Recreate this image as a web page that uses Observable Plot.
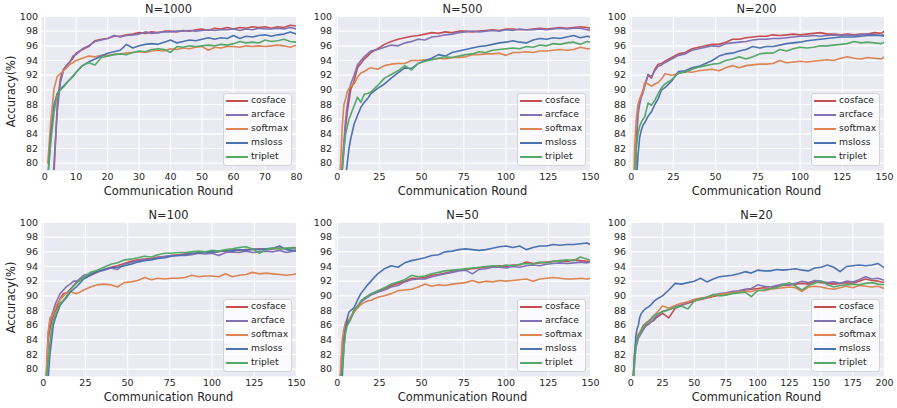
<!DOCTYPE html>
<html>
<head>
<meta charset="utf-8">
<script src="https://cdn.jsdelivr.net/npm/d3@7"></script>
<script src="https://cdn.jsdelivr.net/npm/@observablehq/plot@0.6"></script>
<style>
  html, body { margin: 0; padding: 0; background: #ffffff; }
  #root { position: relative; width: 897px; height: 408px; background: #ffffff; font-family: "DejaVu Sans", sans-serif; color: #262626; overflow: hidden; }
  #root svg { position: absolute; overflow: visible; }
  .lbl { position: absolute; white-space: nowrap; font-size: 11.4px; line-height: 13px; color: #262626; }
  .legend { position: absolute; box-sizing: border-box; background: rgba(255,255,255,0.8); border: 1px solid #d4d4d8; border-radius: 3px; }
  .legend .sw { position: absolute; height: 1.7px; }
  .legend .tx { position: absolute; font-size: 9.2px; line-height: 12px; white-space: nowrap; color: #262626; }
</style>
</head>
<body>
<div id="root"></div>
<script>
// ---------- data ----------
const methods = ["cosface", "arcface", "softmax", "msloss", "triplet"];
const colors = ["#C44E52", "#8172B3", "#DD8452", "#4C72B0", "#55A868"];
const titles = ["N=1000", "N=500", "N=200", "N=100", "N=50", "N=20"];
const yTicks = [80, 82, 84, 86, 88, 90, 92, 94, 96, 98, 100];
const xTicks80 = [0, 10, 20, 30, 40, 50, 60, 70, 80];
const xTicks150 = [0, 25, 50, 75, 100, 125, 150];
const xTicks200 = [0, 25, 50, 75, 100, 125, 150, 175, 200];

// N=1000
const x_N1000 = [1,2,3,4,5,6,7,8,9,10,12,14,16,18,20,22,24,26,28,30,32,34,36,38,40,42,44,46,48,50,52,54,56,58,60,62,64,66,68,70,72,74,76,78,80];
const cosface_N1000 = [70,72,79,88,91.5,92.8,93.3,93.8,94.3,95.0, 95.5,95.9,96.7,96.9,97.0, 97.3,97.3,97.5,97.6,97.8, 97.7,97.9,97.8,98.0,98.0, 97.9,98.1,98.0,98.2,98.3, 98.1,98.4,98.3,98.5,98.3, 98.5,98.4,98.6,98.5,98.6, 98.4,98.6,98.5,98.8,98.7];
const arcface_N1000 = [70,74,80,87,91,92.7,93.4,93.8,94.6,94.8, 95.6,96.0,96.6,96.8,97.0, 97.4,97.2,97.4,97.5,97.6, 97.9,97.7,97.8,97.9,97.9, 98.0,98.0,98.1,98.0,98.1, 98.2,98.1,98.2,98.2,98.3, 98.1,98.3,98.2,98.4,98.3, 98.3,98.4,98.3,98.5,98.3];
const softmax_N1000 = [80,86,90.2,91.8,92.2,92.6,93.0,93.5,93.7,94.0, 94.3,94.6,94.5,94.7,94.7, 94.8,94.9,95.0,95.1,95.2, 95.1,95.3,95.4,95.3,95.6, 95.5,95.7,95.6,95.8,95.9, 95.4,95.8,95.7,95.9,95.9, 95.8,96.0,95.9,96.0,95.9, 96.0,96.1,96.0,95.8,96.1];
const msloss_N1000 = [78,84,88,89.5,90.1,90.5,91.0,91.4,91.9,92.4, 93.3,93.8,94.2,94.6,95.0, 95.2,95.4,96.2,95.7,96.0, 96.2,96.3,96.2,96.5,96.8, 96.4,96.6,96.8,96.7,96.9, 97.1,96.9,97.1,97.0,97.4, 97.0,97.3,97.2,97.4,97.5, 97.3,97.5,97.6,97.9,97.6];
const triplet_N1000 = [78,83,87,89.5,90.0,90.4,90.9,91.4,91.8,92.4, 93.3,93.7,93.4,94.4,94.6, 94.8,94.9,94.8,95.1,95.3, 95.2,95.5,95.6,95.5,95.1, 95.9,95.8,96.0,95.9,96.0, 96.1,96.0,96.2,96.1,96.3, 96.6,96.4,96.5,96.4,96.8, 96.6,96.7,96.9,96.6,96.5];

// shared round grid for N=500, N=200, N=100, N=50
const x_150 = [1,2,3,4,5,6,7,8, 10,12,14,16,18,20, 24,28,32,36,40, 44,48,52,56,60, 64,68,72,76,80, 84,88,92,96,100, 104,108,112,116,120, 124,128,132,136,140,144,148,150];

// N=500
const cosface_N500 = [70,74,79,82,85,87,88.5,90, 91.2,93.0,93.6,94.2,94.6,95.1, 95.6,96.2,96.6,96.9,97.1, 97.3,97.4,97.6,97.8,97.7, 97.9,97.8,98.0,98.0,97.9, 98.0,98.1,98.2,98.1,98.3, 98.3,98.2,98.2,98.3,98.4, 98.3,98.4,98.5,98.4,98.5,98.6,98.5,98.4];
const arcface_N500 = [70,75,80,83,86,88,89.5,90.8, 92.0,93.4,94.0,94.5,94.9,95.3, 95.5,95.8,96.1,96.0,96.4, 96.6,96.9,96.8,97.2,97.3, 97.5,97.6,97.8,97.9,98.0, 97.9,98.0,98.1,98.0,98.2, 98.1,98.3,98.2,98.2,98.3, 98.2,98.3,98.4,98.3,98.4,98.4,98.2,98.1];
const softmax_N500 = [76,80,85,88,88.8,89.8,90.2,90.5, 90.8,91.7,92.3,92.5,92.8,93.0, 92.8,93.3,93.5,93.6,93.6, 94.0,94.0,94.1,94.1,94.3, 94.2,94.4,94.4,94.5,94.8, 94.8,94.9,94.9,95.0,94.7, 95.1,95.1,95.2,95.1,95.3, 95.3,95.4,95.5,95.4,95.5,95.8,95.6,95.6];
const msloss_N500 = [70,70,72,75,78,80,82,83.3, 85.3,86.5,87.6,88.3,88.8,89.5, 90.2,90.8,91.6,92.3,93.0, 92.9,93.6,94.0,94.3,94.8, 94.6,95.1,95.3,95.5,95.7, 95.9,96.0,96.2,96.4,96.5, 96.7,96.5,96.4,96.8,97.0, 96.9,97.1,97.0,97.2,97.4,97.1,97.3,97.2];
const triplet_N500 = [70,74,79,82,84,85,86,86.6, 87.8,89.0,88.3,89.4,89.5,89.7, 90.6,91.6,92.1,92.6,93.3, 92.7,93.6,93.9,94.1,94.3, 94.5,94.4,94.6,94.8,94.9, 95.2,95.1,95.4,95.5,95.6, 95.7,95.6,95.9,95.8,96.1, 96.0,96.3,96.2,96.4,96.5,96.2,96.6,96.5];

// N=200
const cosface_N200 = [70,76,83,87,88.3,89.3,89.8,90.6, 92.0,91.6,92.8,93.5,93.6,93.9, 94.4,94.9,95.1,95.6,95.8, 96.0,96.2,96.2,96.5,96.9, 96.9,97.1,97.2,97.3,97.3, 97.5,97.4,97.5,97.6,97.5, 97.6,97.7,97.8,97.6,97.6, 97.5,97.6,97.5,97.6,97.6,97.8,97.7,98.0];
const arcface_N200 = [70,75,82,86.5,88.0,89.0,89.6,90.5, 92.1,91.8,92.6,93.2,93.4,93.7, 94.2,94.7,94.9,95.4,95.6, 95.8,96.0,95.9,96.3,96.4, 96.5,96.6,96.8,96.9,96.9, 97.0,97.0,97.1,97.2,97.3, 97.3,97.4,97.3,97.4,97.5, 97.4,97.5,97.4,97.5,97.6,97.5,97.4,97.5];
const softmax_N200 = [72,82,86,88,88.8,89.3,90.0,91.0, 90.8,90.5,90.8,91.0,91.5,92.2, 92.0,92.2,92.5,92.4,92.6, 92.7,92.8,92.6,93.0,93.3, 93.0,93.3,93.4,93.5,93.5, 93.6,94.0,93.7,93.8,93.9, 93.8,93.9,94.0,94.1,94.0, 94.3,94.5,94.3,94.2,94.4,94.3,94.2,94.5];
const msloss_N200 = [70,70,77,81,83.5,84.5,85.2,85.5, 86.4,87.0,88.0,88.8,90.0,90.3, 91.2,92.5,92.6,93.0,93.2, 93.6,94.0,94.6,94.9,95.0, 95.3,95.5,95.9,95.7,95.9, 95.9,96.1,96.3,96.4,96.5, 96.7,96.8,96.9,97.0,97.1, 97.2,97.2,97.2,97.3,97.4,97.4,97.4,97.3];
const triplet_N200 = [70,77,82,84,85,85.6,86.0,86.3, 88.2,87.9,88.6,89.5,90.3,90.8, 91.4,92.3,92.4,92.8,93.1, 93.3,93.5,93.6,94.0,94.2, 94.5,94.2,94.5,94.9,95.0, 95.0,95.5,95.3,95.6,95.8, 95.7,95.8,96.0,96.0,96.1, 96.2,96.3,96.6,96.4,96.5,96.4,96.3,96.5];

// N=100
const cosface_N100 = [70,79,84,85.5,86.5,87.3,87.8,88.3, 89.6,90.3,90.4,90.9,91.4,91.9, 92.5,92.8,93.2,93.6,93.9, 94.1,94.4,94.7,94.9,95.0, 95.1,95.3,95.3,95.5,95.6, 95.7,95.7,95.9,96.0,96.0, 96.1,96.1,96.3,96.2,96.3, 96.3,96.4,96.3,96.4,96.5,96.4,96.6,96.5];
const arcface_N100 = [70,80,85,86.5,87.3,88.0,88.8,89.3, 90.3,90.8,91.3,91.6,92.0,92.0, 92.8,93.0,93.3,93.5,93.8, 93.6,94.3,94.5,94.8,94.9, 95.0,95.2,95.4,95.5,95.5, 95.5,95.6,95.8,95.7,95.8, 95.5,95.9,96.0,95.9,96.1, 95.9,96.0,96.1,96.0,96.2,95.9,96.1,96.1];
const softmax_N100 = [72,80,85,87,87.2,87.5,88.2,88.8, 89.5,90.0,90.5,90.6,90.4,90.3, 90.8,91.2,91.5,91.6,91.5, 91.2,91.8,91.9,92.1,92.5, 92.2,92.4,92.3,92.4,92.4, 92.5,92.8,92.6,92.7,92.7, 92.6,93.0,92.6,92.8,92.9, 93.2,93.0,93.1,93.0,92.9,92.8,92.9,93.0];
const msloss_N100 = [70,70,79,82,84,86,86.8,87.5, 88.7,89.3,89.8,90.5,90.9,91.3, 92.3,92.8,93.3,93.6,93.8, 93.9,94.1,94.3,94.6,94.8, 94.9,95.1,95.2,95.4,95.5, 95.6,95.8,95.8,95.9,96.0, 96.0,96.2,96.1,96.3,96.2, 96.4,96.3,96.4,96.5,96.8,96.3,96.2,96.2];
const triplet_N100 = [70,79,81,83.5,85.5,86.5,87.3,87.8, 89.0,89.4,90.0,90.8,91.3,91.8, 92.5,93.2,93.5,93.9,94.3, 94.5,94.9,95.0,95.2,95.4, 95.3,95.6,95.8,95.8,95.9, 95.9,96.0,96.1,96.0,96.2, 96.1,96.3,96.4,96.6,96.7, 96.4,95.8,96.3,96.5,96.4,96.5,96.5,96.6];

// N=50
const cosface_N50 = [70,79,83,85,86,86.3,86.6,87.0, 88.0,88.6,89.2,89.6,89.9,90.2, 90.6,91.0,91.4,91.7,92.0, 92.4,92.4,92.5,92.8,92.9, 93.1,93.3,93.5,93.6,93.7, 93.8,93.9,94.0,94.1,94.0, 94.2,94.2,94.6,94.4,94.5, 94.6,94.7,94.8,94.7,94.9,94.8,94.7,94.7];
const arcface_N50 = [70,79,83,85,86,86.2,86.6,86.9, 87.8,88.5,89.1,89.5,89.8,90.1, 90.5,90.8,91.2,91.4,91.9, 92.2,92.3,92.3,92.6,92.8, 93.0,93.2,93.4,93.5,93.0, 93.6,93.7,93.9,93.9,93.8, 94.0,93.9,94.1,94.2,94.1, 94.3,94.4,94.5,94.4,94.5,94.6,94.5,94.6];
const softmax_N50 = [72,80,84,85.5,86.5,86.7,86.8,87.2, 87.8,88.3,88.8,89.1,89.3,89.4, 89.8,90.0,90.3,90.7,90.8, 90.9,91.2,91.6,91.3,91.5, 91.4,91.6,91.7,91.8,92.1, 91.8,92.0,91.9,92.1,92.0, 92.1,92.2,92.3,92.0,92.3, 92.4,92.5,92.4,92.3,92.3,92.4,92.3,92.4];
const msloss_N50 = [70,70,79,83,85.5,87.0,87.8,88.0, 88.4,89.4,90.3,90.9,91.5,92.0, 93.0,93.7,94.1,93.9,94.5, 94.8,95.0,95.2,95.5,95.6, 96.0,96.1,96.3,96.4,96.3, 96.2,96.3,96.5,96.7,96.8, 96.6,96.8,96.3,96.6,96.8, 96.8,97.0,96.9,97.0,97.0,97.1,97.2,97.0];
const triplet_N50 = [70,79,80,83,85,86,86.3,86.8, 88.2,88.5,89.3,89.7,90.0,90.3, 90.7,91.1,91.6,91.9,92.2, 92.8,92.6,92.7,93.0,93.2, 93.4,93.5,93.6,93.7,93.8, 93.9,94.0,94.1,94.0,94.2, 94.1,94.3,94.4,94.3,94.6, 94.5,94.7,94.8,94.9,94.8,95.3,95.0,94.9];

// N=20
const x_N20 = [1,2,3,4,5,6,7,8, 10,12,14,16,18,20, 25,30,35,40,45,50, 55,60,65,70,75,80, 85,90,95,100,105,110, 115,120,125,130,135,140, 145,150,155,160,165,170, 175,180,185,190,195,200];
const cosface_N20 = [70,79,82,83,84,84.5,84.8,85.0, 85.6,86.0,86.2,86.5,86.6,87.0, 87.6,87.0,88.3,88.7,89.0,89.3, 89.5,89.7,89.9,90.1,90.3,90.6, 90.5,90.8,90.9,91.0,91.1,91.0, 91.3,91.4,91.5,91.6,91.7,91.6, 91.9,91.8,91.7,91.6,91.7,91.8, 91.7,92.0,92.3,92.1,92.0,91.8];
const arcface_N20 = [70,78,81,83,83.5,84.2,84.5,84.8, 85.4,85.9,86.1,86.4,86.8,87.2, 87.9,88.1,88.5,88.8,89.1,89.5, 89.6,89.8,90.1,90.3,90.4,90.6, 90.7,90.9,91.0,91.5,91.3,91.2, 91.4,91.6,91.5,91.7,92.0,91.8, 92.1,92.0,91.8,91.9,91.7,92.0, 91.9,92.2,92.6,92.3,92.4,92.1];
const softmax_N20 = [72,79,82,83.5,84.5,84.8,85.0,85.3, 86.0,86.3,86.6,86.9,87.3,87.6, 88.6,88.3,88.7,89.0,89.2,89.5, 89.7,89.8,90.0,90.2,90.3,90.4, 90.5,90.6,90.6,90.8,90.7,90.9, 91.0,91.1,91.2,91.1,90.6,91.2, 91.3,91.2,91.0,90.9,91.1,91.3, 91.1,91.4,91.3,91.2,91.3,91.0];
const msloss_N20 = [70,79,82,84.5,85.5,86.0,87.0,87.5, 88.0,88.3,88.5,88.8,89.2,89.5, 90.0,90.8,91.7,91.6,91.8,92.0, 92.4,91.9,92.3,92.6,92.7,92.8, 93.0,93.3,93.1,93.5,93.4,93.4, 93.6,93.5,93.6,93.7,93.5,93.4, 93.8,93.9,94.2,93.9,93.3,94.0, 94.1,94.2,94.1,94.2,94.4,93.8];
const triplet_N20 = [70,78,81,83,84,84.5,84.8,85.2, 86.0,86.2,86.5,86.8,87.2,87.5, 87.8,88.1,88.4,88.6,88.2,89.3, 89.6,89.8,90.2,90.0,90.1,90.3, 90.4,90.5,89.9,90.7,90.8,91.0, 91.1,91.5,91.8,91.3,90.8,91.4, 91.7,92.0,91.5,91.2,91.4,91.5, 91.6,91.5,91.7,91.8,91.6,91.5];

// ---------- assembly ----------
const panels = [
  {x: x_N1000, ys: [cosface_N1000, arcface_N1000, softmax_N1000, msloss_N1000, triplet_N1000], xmax: 80, xTicks: xTicks80},
  {x: x_150, ys: [cosface_N500, arcface_N500, softmax_N500, msloss_N500, triplet_N500], xmax: 150, xTicks: xTicks150},
  {x: x_150, ys: [cosface_N200, arcface_N200, softmax_N200, msloss_N200, triplet_N200], xmax: 150, xTicks: xTicks150},
  {x: x_150, ys: [cosface_N100, arcface_N100, softmax_N100, msloss_N100, triplet_N100], xmax: 150, xTicks: xTicks150},
  {x: x_150, ys: [cosface_N50, arcface_N50, softmax_N50, msloss_N50, triplet_N50], xmax: 150, xTicks: xTicks150},
  {x: x_N20, ys: [cosface_N20, arcface_N20, softmax_N20, msloss_N20, triplet_N20], xmax: 200, xTicks: xTicks200}
];

const root = document.getElementById("root");
const W = 299, H = 204, ML = 41, MR = 3, MT = 16, MB = 34;
const colLeft = [0, 294, 588];
const rowTop = [0, 206];

panels.forEach((p, i) => {
  const col = i % 3, row = Math.floor(i / 3);
  const left = colLeft[col], top = rowTop[row];
  const rows = [];
  p.ys.forEach((vals, k) => {
    const n = Math.min(vals.length, p.x.length);
    for (let j = 0; j < n; j++) rows.push({x: p.x[j], y: vals[j], m: methods[k]});
  });

  const chart = Plot.plot({
    width: W, height: H,
    marginLeft: ML, marginRight: MR, marginTop: MT, marginBottom: MB,
    style: {background: "transparent", fontFamily: "DejaVu Sans, sans-serif", fontSize: "9.5px", color: "#262626"},
    x: {domain: [-1, p.xmax]},
    y: {domain: [79, 100]},
    color: {domain: methods, range: colors},
    marks: [
      Plot.frame({fill: "#EAEAF2", stroke: null}),
      Plot.gridX(p.xTicks, {stroke: "#ffffff", strokeOpacity: 1, strokeWidth: 1.1}),
      Plot.gridY(yTicks, {stroke: "#ffffff", strokeOpacity: 1, strokeWidth: 1.1}),
      Plot.line(rows, {x: "x", y: "y", z: "m", stroke: "m", strokeWidth: 1.6, clip: true, curve: "linear"}),
      Plot.axisX(p.xTicks, {tickSize: 0, tickPadding: 3, label: null, fill: "#262626"}),
      Plot.axisY(yTicks, {tickSize: 0, tickPadding: 3.5, label: null, fill: "#262626"})
    ]
  });
  chart.style.left = left + "px";
  chart.style.top = top + "px";
  root.appendChild(chart);

  const plotL = left + ML, plotR = left + W - MR, plotT = top + MT, plotB = top + H - MB;
  const cx = (plotL + plotR) / 2;

  const t = document.createElement("div");
  t.className = "lbl";
  t.textContent = titles[i];
  t.style.left = (cx - 60) + "px"; t.style.width = "120px"; t.style.textAlign = "center";
  t.style.top = (top + 3) + "px";
  root.appendChild(t);

  const xl = document.createElement("div");
  xl.className = "lbl";
  xl.textContent = "Communication Round";
  xl.style.left = (cx - 80) + "px"; xl.style.width = "160px"; xl.style.textAlign = "center";
  xl.style.top = (plotB + 15) + "px";
  root.appendChild(xl);

  if (col === 0) {
    const yl = document.createElement("div");
    yl.className = "lbl";
    yl.textContent = "Accuracy(%)";
    yl.style.width = "100px"; yl.style.textAlign = "center";
    const cy = (plotT + plotB) / 2 - 2;
    yl.style.left = (11 - 50) + "px";
    yl.style.top = (cy - 6.5) + "px";
    yl.style.transform = "rotate(-90deg)";
    root.appendChild(yl);
  }

  const lg = document.createElement("div");
  lg.className = "legend";
  const lw = 69.5, lh = 73;
  lg.style.left = (plotR - 4 - lw) + "px";
  lg.style.top = (plotB - 4.3 - lh) + "px";
  lg.style.width = lw + "px"; lg.style.height = lh + "px";
  methods.forEach((m, k) => {
    const cyy = 7 + 14 * k;
    const sw = document.createElement("div");
    sw.className = "sw";
    sw.style.left = "2px"; sw.style.width = "22px";
    sw.style.top = (cyy - 0.85) + "px";
    sw.style.background = colors[k];
    lg.appendChild(sw);
    const tx = document.createElement("div");
    tx.className = "tx";
    tx.textContent = m;
    tx.style.left = "27.5px"; tx.style.top = (cyy - 6.5) + "px";
    lg.appendChild(tx);
  });
  root.appendChild(lg);
});
</script>
</body>
</html>
